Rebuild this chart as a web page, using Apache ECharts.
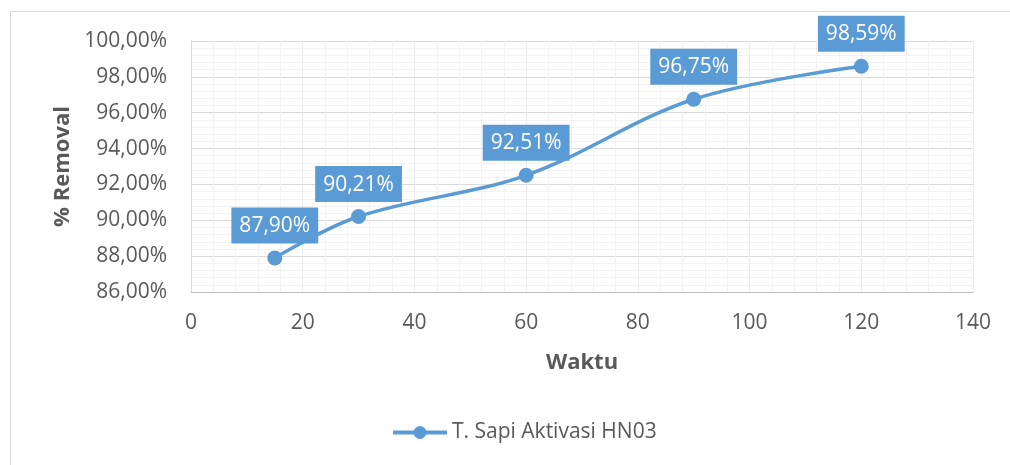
<!DOCTYPE html>
<html>
<head>
<meta charset="utf-8">
<script src="https://cdn.jsdelivr.net/npm/echarts@6/dist/echarts.min.js"></script>
<style>
  html, body { margin: 0; padding: 0; background: #fff; }
  #chart { width: 1010px; height: 465px; }
</style>
</head>
<body>
<div id="chart"></div>
<script>
  // data
  const waktu = [15, 30, 60, 90, 120];
  const removal = [87.90, 90.21, 92.51, 96.75, 98.59];
  const seriesName = 'T. Sapi Aktivasi HN03';

  const blue = '#5b9bd5';
  const grey = '#595959';
  const font = '"Open Sans", sans-serif';

  const chart = echarts.init(document.getElementById('chart'));
  const fmt = v => v.toFixed(2).replace('.', ',') + '%';

  const option = {
    backgroundColor: '#fff',
    animation: false,
    textStyle: { fontFamily: font },
    graphic: [{
      type: 'rect',
      shape: { x: 10.5, y: 11.5, width: 1010, height: 470 },
      style: { fill: 'none', stroke: '#d9d9d9', lineWidth: 1 },
      silent: true
    }],
    grid: { left: 191, right: 37, top: 41, bottom: 173 },
    legend: {
      bottom: 17,
      left: 386,
      itemWidth: 54,
      itemHeight: 16,
      itemGap: 10,
      lineStyle: { width: 4 },
      textStyle: { color: grey, fontSize: 21, fontFamily: font },
      data: [seriesName]
    },
    xAxis: {
      type: 'value',
      min: 0, max: 140, interval: 20,
      name: 'Waktu',
      nameLocation: 'middle',
      nameGap: 60,
      nameTextStyle: { color: grey, fontSize: 22, fontWeight: 'bold', fontFamily: font },
      axisLine: { show: true, lineStyle: { color: '#bfbfbf', width: 1 } },
      axisTick: { show: false },
      axisLabel: { color: grey, fontSize: 21, margin: 21, fontFamily: font },
      splitLine: { show: true, lineStyle: { color: '#ececec', width: 1 } },
      minorTick: { show: false, splitNumber: 5 },
      minorSplitLine: { show: true, lineStyle: { color: '#f2f2f2', width: 1 } }
    },
    yAxis: {
      type: 'value',
      min: 86, max: 100, interval: 2,
      name: '% Removal',
      nameLocation: 'middle',
      nameGap: 117,
      nameTextStyle: { color: grey, fontSize: 22, fontWeight: 'bold', fontFamily: font },
      axisLine: { show: true, lineStyle: { color: '#d9d9d9', width: 1 } },
      axisTick: { show: false },
      axisLabel: { color: grey, fontSize: 21, margin: 24, fontFamily: font, formatter: v => fmt(v) },
      splitLine: { show: true, lineStyle: { color: '#d9d9d9', width: 1 } },
      minorTick: { show: false, splitNumber: 5 },
      minorSplitLine: { show: true, lineStyle: { color: '#f2f2f2', width: 1 } }
    },
    series: [{
      name: seriesName,
      type: 'line',
      smooth: 0.35,
      data: waktu.map((x, i) => [x, removal[i]]),
      symbol: 'circle',
      symbolSize: 15,
      lineStyle: { color: blue, width: 3.5 },
      itemStyle: { color: blue },
      label: {
        show: true,
        position: 'top',
        distance: 7,
        color: '#fff',
        fontSize: 21,
        fontFamily: font,
        backgroundColor: blue,
        padding: [8, 8, 7, 8],
        formatter: p => fmt(p.value[1])
      }
    }]
  };

  chart.setOption(option);
</script>
</body>
</html>
